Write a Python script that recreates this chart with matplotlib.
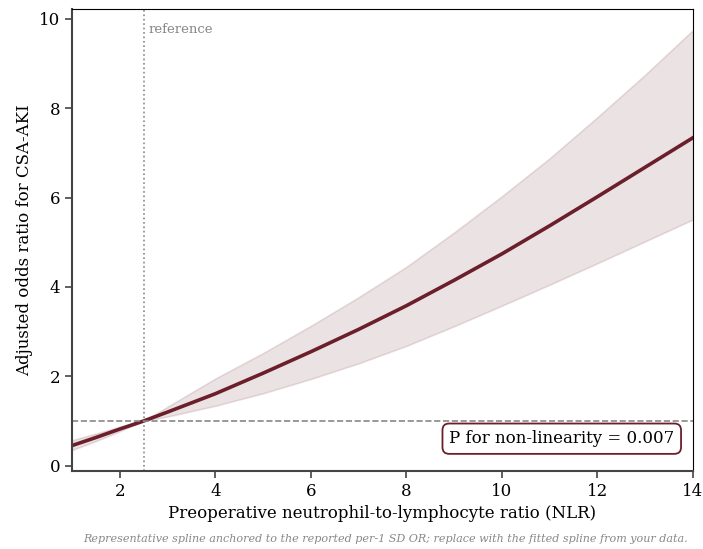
import matplotlib
matplotlib.use("Agg")
import matplotlib.pyplot as plt
import numpy as np

plt.rcParams['font.family'] = ['DejaVu Serif']

nlr = [1, 1.5, 2, 2.5, 3, 4, 5, 6, 7, 8, 9, 10, 11, 12, 13, 14]
odds = [0.45, 0.63, 0.82, 1.0, 1.2, 1.61, 2.07, 2.55, 3.05, 3.58, 4.15, 4.74, 5.37, 6.02, 6.68, 7.34]
upper = [0.57, 0.72, 0.87, 1.0, 1.32, 1.95, 2.52, 3.13, 3.77, 4.45, 5.22, 6.03, 6.88, 7.80, 8.75, 9.75]
lower = [0.35, 0.55, 0.77, 1.0, 1.10, 1.34, 1.62, 1.94, 2.29, 2.68, 3.12, 3.58, 4.05, 4.53, 5.02, 5.51]
ref_nlr = 2.5
p_text = "P for non-linearity = 0.007"

color = '#6b1f2b'
fig = plt.figure(figsize=(7.03, 5.49), dpi=100)
ax = fig.add_axes([0.1024, 0.142, 0.8834, 0.8416])

ax.fill_between(nlr, lower, upper, color=color, alpha=0.13, edgecolor=color, linewidth=1.2)
ax.plot(nlr, odds, color=color, lw=2.6)
ax.axhline(1, color='#888888', ls='--', lw=1.2)
ax.axvline(ref_nlr, color='#888888', ls=':', lw=1.2)
ax.set_xlim(1, 14)
ax.margins(y=0.05)
ax.set_xticks([2, 4, 6, 8, 10, 12, 14])
ax.set_yticks([0, 2, 4, 6, 8, 10])
ax.tick_params(labelsize=12, width=1.2, length=5, color='#444444')
for s in ['left', 'bottom']:
    ax.spines[s].set_color('#444444')
    ax.spines[s].set_linewidth(1.5)
ax.text(ref_nlr + 0.1, 0.955, 'reference', transform=ax.get_xaxis_transform(),
        color='#888888', fontsize=9.5, va='center')
ax.text(0.97, 0.07, p_text, transform=ax.transAxes, ha='right', va='center',
        fontsize=12, bbox=dict(boxstyle='round,pad=0.4', fc='white', ec=color, lw=1.3))
ax.set_xlabel('Preoperative neutrophil-to-lymphocyte ratio (NLR)', fontsize=12)
ax.set_ylabel('Adjusted odds ratio for CSA-AKI', fontsize=12)
fig.text(0.548, 0.018, 'Representative spline anchored to the reported per-1 SD OR; replace with the fitted spline from your data.',
         ha='center', va='center', fontsize=8, style='italic', color='#888888')
fig.savefig('out.png', dpi=100)
